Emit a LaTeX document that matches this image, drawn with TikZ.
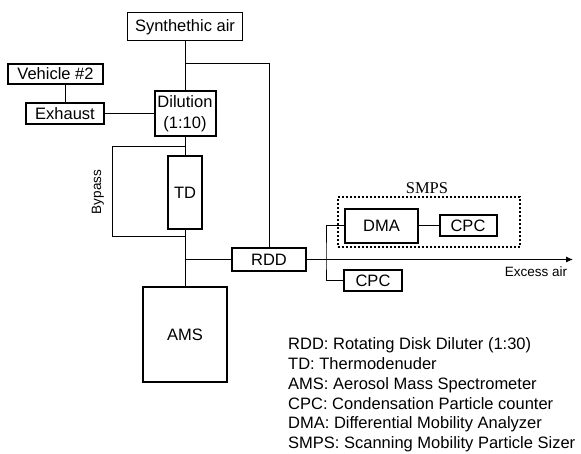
\documentclass[tikz,border=0pt]{standalone}
\usepackage{fontspec}
\setmainfont{Liberation Sans}
\newfontfamily\timesfont{Liberation Serif}
\usetikzlibrary{arrows.meta}
\begin{document}
\begin{tikzpicture}[x=1pt,y=-1pt,
  every node/.style={font=\fontsize{16.5}{20.5}\selectfont},
  thinbox/.style={draw,line width=1pt,inner sep=0pt,align=center},
  thickbox/.style={draw,line width=2pt,inner sep=0pt,align=center},
  conn/.style={line width=1pt},
  smalllabel/.style={font=\fontsize{13.5}{16}\selectfont,inner sep=0pt}]
\useasboundingbox (0,0) rectangle (581,454);
% boxes
\node[thinbox,minimum width=115pt,minimum height=28pt] (synth) at (185,27) {Synthethic air};
\node[thickbox,minimum width=95pt,minimum height=20pt] (veh) at (55.5,74) {Vehicle \#2};
\node[thickbox,minimum width=78pt,minimum height=21pt] (exh) at (65,113.5) {Exhaust};
\node[thickbox,minimum width=61pt,minimum height=45pt] (dil) at (185,113.5) {Dilution\\(1:10)};
\node[thickbox,minimum width=34pt,minimum height=73pt] (td) at (185,192.5) {TD};
\node[thickbox,minimum width=84pt,minimum height=95pt] (ams) at (185,334.5) {AMS};
\node[draw,line width=1.5pt,inner sep=0pt,minimum width=74pt,minimum height=23pt] (rdd) at (269,259.5) {RDD};
\node[thickbox,minimum width=73pt,minimum height=34pt] (dma) at (381.5,226) {DMA};
\node[thickbox,minimum width=57pt,minimum height=21pt] (cpca) at (468,226) {CPC};
\node[thickbox,minimum width=58pt,minimum height=21pt] (cpcb) at (373,280.5) {CPC};
% SMPS dotted frame
\node[draw,dotted,line width=2pt,inner sep=0pt,minimum width=182pt,minimum height=50pt] (smps) at (428.5,222.5) {};
\node[font=\timesfont\fontsize{16.5}{20}\selectfont,inner sep=0pt] (smpslab) at (427,188.5) {SMPS};
% labels
\node[smalllabel,rotate=90] (bypass) at (98,192) {Bypass};
\node[smalllabel] (excess) at (536,272) {Excess air};
\node[anchor=west,align=left,inner sep=0pt,font=\fontsize{16.5}{19.8}\selectfont] (legend) at (288,395) {RDD: Rotating Disk Diluter (1:30)\\TD: Thermodenuder\\AMS: Aerosol Mass Spectrometer\\CPC: Condensation Particle counter\\DMA: Differential Mobility Analyzer\\SMPS: Scanning Mobility Particle Sizer};
% coordinates
\coordinate (j1) at (185,64);
\coordinate (bp1) at (185,147);
\coordinate (bpa) at (112,147);
\coordinate (bpb) at (112,237);
\coordinate (bp2) at (185,237);
\coordinate (j2) at (185,259.5);
\coordinate (xs) at (326,259.5);
\coordinate (exc) at (573,259.5);
% connectors
\draw[conn] (synth.south) -- (dil.north);
\draw[conn] (j1) -| (rdd.north);
\draw[conn] (exh.north) -- (exh.north |- veh.south);
\draw[conn] (exh.east) -- (dil.west);
\draw[conn] (dil.south) -- (td.north);
\draw[conn] (bp1) -- (bpa) -- (bpb) -- (bp2);
\draw[conn] (td.south) -- (ams.north);
\draw[conn] (j2) -- (rdd.west);
\draw[conn,-{Latex[length=7pt,width=6pt]}] (rdd.east) -- (exc);
\draw[conn] (dma.west) -| (xs) |- (cpcb.west);
\draw[conn] (dma.east) -- (cpca.west);
\end{tikzpicture}
\end{document}
